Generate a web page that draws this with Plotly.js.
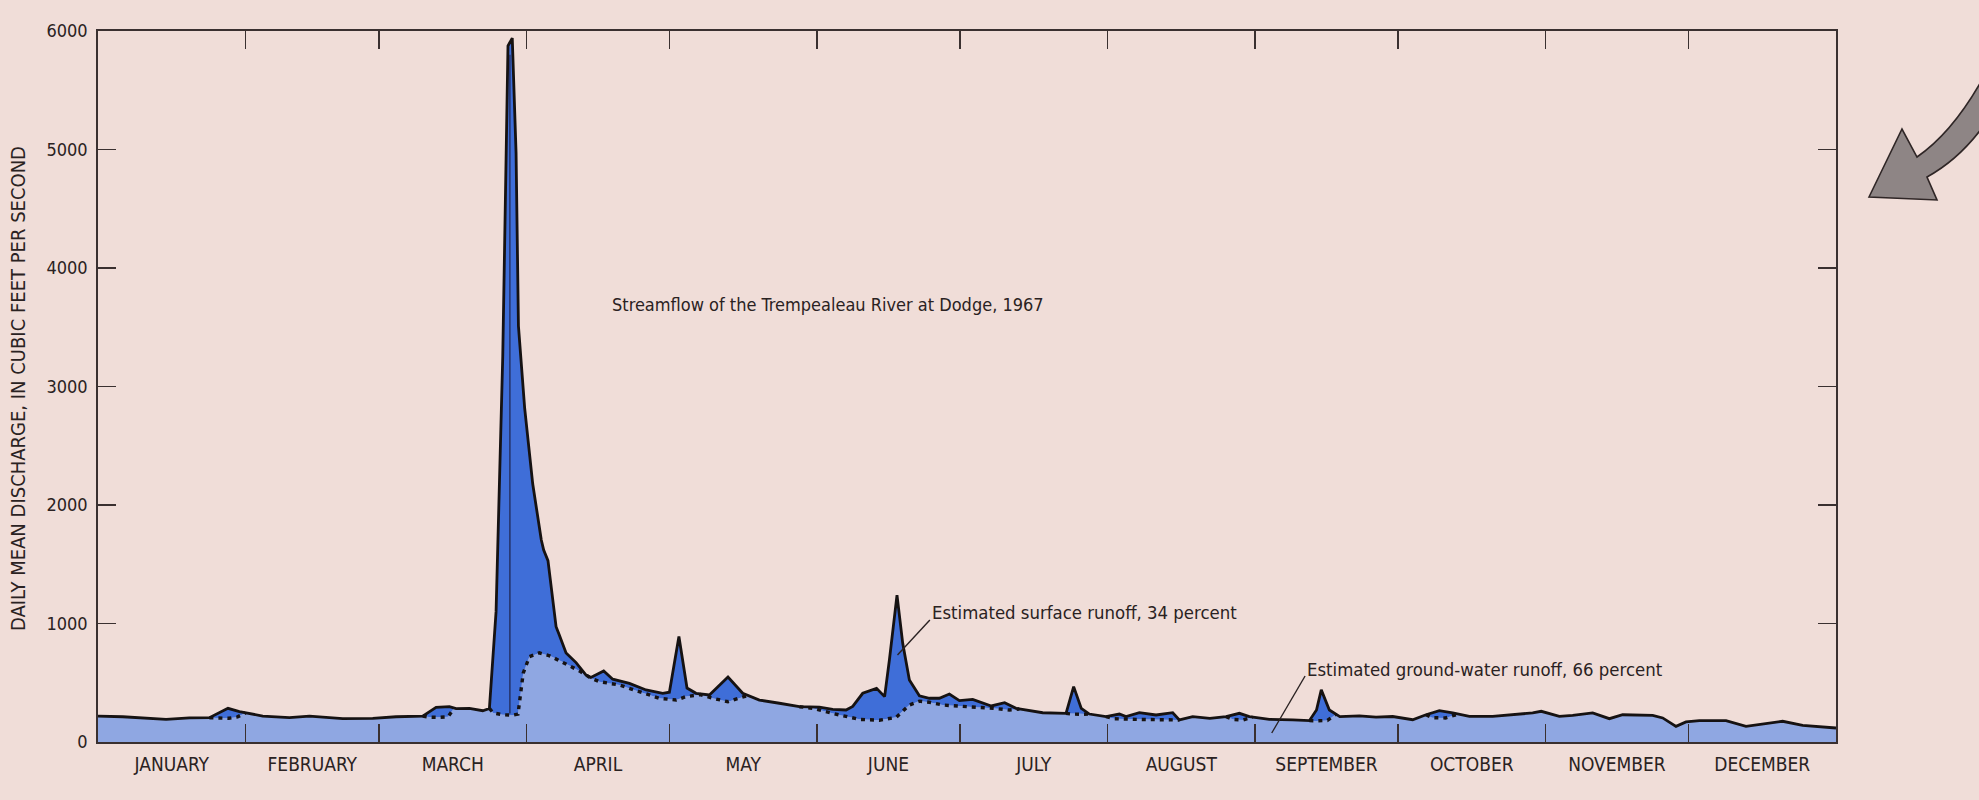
<!DOCTYPE html>
<html>
<head>
<meta charset="utf-8">
<script src="https://cdn.plot.ly/plotly-3.0.1.min.js"></script>
<style>
  html, body { margin: 0; padding: 0; background: #f0ddd8; }
  #chart { width: 1979px; height: 800px; }
</style>
</head>
<body>
<div id="chart"></div>
<script>
// ---------- DATA ----------
const months = ["JANUARY","FEBRUARY","MARCH","APRIL","MAY","JUNE","JULY","AUGUST","SEPTEMBER","OCTOBER","NOVEMBER","DECEMBER"];
const monthLengths = [31,28,31,30,31,30,31,31,30,31,30,31];
const yTicks = [0,1000,2000,3000,4000,5000,6000];

// Total daily mean discharge (solid line): day of year (0 = Jan 1) and cfs
const totDays = [0,5.2,14.3,19.2,23.4,25.2,27.3,29.7,34.6,40.2,44.4,51.4,57.7,62.6,68.2,71,73.8,75.2,78,80.8,
  82.2,83.6,85,86.1,87,87.8,88.3,89.6,91.3,93.1,93.6,94.5,96.2,96.9,98.3,100.4,102.5,103.5,106.2,108.1,
  111.6,115.1,118.6,120,122,123.7,125.6,128.4,130.2,132.3,135.4,138.9,143.1,147.3,151.5,154.3,157.1,158.5,160.6,163.5,
  165.2,166.2,167.8,169,170.4,172.5,174.6,176.7,178.8,180.9,183.7,185.8,187.6,190.4,192.8,198.4,203.3,204.9,206.5,208.2,
  211.7,214.5,215.9,218.7,222.2,225.7,227.1,229.9,233.5,236.9,239.7,241.8,246,250.9,254.4,255.9,256.9,258.6,260.8,264.9,
  268.4,271.9,276.1,278.9,281.7,284.5,288,292.9,297.1,301.3,303.1,306.9,309.7,313.9,317.4,320.2,326.5,328.6,331.4,333.5,
  336.3,341.9,346.1,348.9,353.8,358,365];
const totFlow = [219,213,191,203,205,242,284,256,219,205,219,197,200,213,219,293,298,281,284,264,
  283,1100,3250,5874,5940,4970,3510,2820,2177,1704,1620,1530,973,900,752,670,565,545,600,530,
  495,439,411,420,890,455,411,397,467,548,411,354,327,298,295,276,270,300,411,453,
  383,692,1240,833,523,390,369,369,405,349,360,332,304,332,284,247,242,467,284,236,
  214,236,214,247,228,247,186,214,200,214,242,214,191,186,180,270,440,270,214,220,
  210,215,188,230,264,245,217,217,230,245,259,217,225,245,197,230,225,203,132,169,
  180,180,132,146,175,141,118];

// Estimated ground-water runoff where it departs from the total (dotted line)
const gwSegDays = [
  [23.4,25.5,27.5,29.3,31],
  [68.2,69.5,71.5,73.5,74.8],
  [82.2,83,85,87,88.2,88.8,89.3,90.6,92.7,95,97.6,101.1,103.5,105.3,109.5,113.7,117.9,121.4,123.5,126.5,129.1,132.3,134.4,136.5],
  [147.3,150.1,155.7,159.9,164.1,167.6,170.4,172.5,174.6,177.4,184.4,188,191.4,193.5],
  [203.3,204.5,206.5,208.2],
  [211.7,213.5,218,222,226.4,227.1],
  [236.9,238.5,240.5,242.5],
  [254.4,255.8,258.2,260],
  [278.9,280.2,283,285.5]
];
const gwSegFlow = [
  [205,200,200,212,246],
  [219,210,208,213,286],
  [283,245,230,226,235,420,580,720,752,725,675,600,540,509,481,425,369,354,383,400,369,340,369,393],
  [298,284,228,191,184,208,312,345,335,312,293,285,270,279],
  [242,236,234,236],
  [214,196,191,191,190,186],
  [214,190,186,210],
  [180,178,182,234],
  [230,205,203,234]
];

const titleText = "Streamflow of the Trempealeau River at Dodge, 1967";
const surfaceText = "Estimated surface runoff, 34 percent";
const groundText = "Estimated ground-water runoff, 66 percent";
const yTitleText = "DAILY MEAN DISCHARGE, IN CUBIC FEET PER SECOND";

// ---------- DERIVED ----------
const monthStarts = [], monthMids = [];
let acc = 0;
monthLengths.forEach(n => { monthStarts.push(acc); monthMids.push(acc + n / 2); acc += n; });
const yearDays = acc;

// ground-water series for fill: total outside the segments, segment values inside
const gwPts = [];
totDays.forEach((d, i) => {
  const inside = gwSegDays.some(s => d >= s[0] && d <= s[s.length - 1]);
  if (!inside) gwPts.push([d, totFlow[i]]);
});
gwSegDays.forEach((s, k) => s.forEach((d, j) => gwPts.push([d, gwSegFlow[k][j]])));
gwPts.sort((a, b) => a[0] - b[0]);

// dotted line: segments separated by gaps
const dotX = [], dotY = [];
gwSegDays.forEach((s, k) => {
  s.forEach((d, j) => { dotX.push(d); dotY.push(gwSegFlow[k][j]); });
  dotX.push(null); dotY.push(null);
});

// ---------- STYLE ----------
const BG = "#f0ddd8";
const INK = "#2a2222";
const AXC = "#3a3030";
const LIGHT = "#8fa7e2";
const DARK = "#3f6ed8";
const FONT = "'DejaVu Sans Condensed', 'Liberation Sans Narrow', sans-serif";
const W = 1979, H = 800, M = { l: 98, r: 143, t: 31, b: 58 };
const pw = W - M.l - M.r, ph = H - M.t - M.b;
const px = X => (X - M.l) / pw;
const py = Y => (H - M.b - Y) / ph;

// peak position (used for the artist's inner line in the spring peak)
const peakIdx = totFlow.indexOf(Math.max(...totFlow));

const traces = [
  { x: gwPts.map(p => p[0]), y: gwPts.map(p => p[1]), type: "scatter", mode: "lines",
    line: { width: 0, color: LIGHT }, fill: "tozeroy", fillcolor: LIGHT, hoverinfo: "skip" },
  { x: totDays, y: totFlow, type: "scatter", mode: "lines",
    line: { width: 2.8, color: "#161212" }, fill: "tonexty", fillcolor: DARK, hoverinfo: "skip" },
  { x: dotX, y: dotY, type: "scatter", mode: "lines", connectgaps: false,
    line: { width: 3.4, color: "#161212", dash: "4px,5px" }, hoverinfo: "skip" },
  { x: monthMids, y: monthMids.map(() => null), xaxis: "x2", type: "scatter", mode: "lines", hoverinfo: "skip" }
];

const arrowPath = (() => {
  const P = (X, Y) => px(X).toFixed(5) + "," + py(Y).toFixed(5);
  return "M" + P(1869, 197) + " L" + P(1902, 129) + " L" + P(1917, 157) +
         " Q" + P(1952, 133) + " " + P(1982, 80) + " L" + P(1982, 128) +
         " Q" + P(1958, 160) + " " + P(1927, 177) + " L" + P(1937, 200) + " Z";
})();

const layout = {
  width: W, height: H,
  margin: M,
  paper_bgcolor: BG, plot_bgcolor: BG,
  showlegend: false,
  font: { family: FONT, color: INK, size: 19 },
  xaxis: {
    range: [0, yearDays], tickmode: "array", tickvals: monthStarts.slice(1),
    ticks: "inside", ticklen: 18, tickwidth: 1.5, tickcolor: AXC,
    showticklabels: false, showline: true, linewidth: 1.8, linecolor: AXC,
    mirror: "ticks", showgrid: false, zeroline: false, fixedrange: true
  },
  xaxis2: {
    overlaying: "x", anchor: "y", side: "bottom", range: [0, yearDays],
    tickmode: "array", tickvals: monthMids, ticktext: months,
    ticks: "", showline: false, showgrid: false, zeroline: false,
    tickfont: { family: FONT, size: 19, color: INK }, ticklabelstandoff: 9, fixedrange: true
  },
  yaxis: {
    range: [0, 6000], tickmode: "array", tickvals: yTicks,
    ticks: "inside", ticklen: 18, tickwidth: 1.5, tickcolor: AXC,
    showline: true, linewidth: 1.8, linecolor: AXC, mirror: "ticks",
    showgrid: false, zeroline: false,
    tickfont: { family: FONT, size: 18, color: INK }, ticklabelstandoff: 5, fixedrange: true
  },
  annotations: [
    { xref: "paper", yref: "paper", x: px(18), y: py(389), text: yTitleText, textangle: -90,
      showarrow: false, xanchor: "center", yanchor: "middle",
      font: { family: FONT, size: 20, color: INK } },
    { xref: "x", yref: "y", x: 107.5, y: 3692, text: titleText, showarrow: false,
      xanchor: "left", yanchor: "middle", font: { family: FONT, size: 18, color: INK } },
    { xref: "x", yref: "y", x: 174.8, y: 1097, text: surfaceText, showarrow: false,
      xanchor: "left", yanchor: "middle", font: { family: FONT, size: 18.4, color: INK } },
    { xref: "x", yref: "y", x: 253.4, y: 616, text: groundText, showarrow: false,
      xanchor: "left", yanchor: "middle", font: { family: FONT, size: 18.4, color: INK } }
  ],
  shapes: [
    { type: "line", xref: "x", yref: "y", x0: totDays[peakIdx] - 0.5, x1: totDays[peakIdx] - 0.5,
      y0: 240, y1: 5800, line: { color: "#26356e", width: 1.6 } },
    { type: "line", xref: "x", yref: "y", x0: 174.7, y0: 1030, x1: 167.9, y1: 734,
      line: { color: INK, width: 1.4 } },
    { type: "line", xref: "x", yref: "y", x0: 253.5, y0: 557, x1: 246.5, y1: 76,
      line: { color: INK, width: 1.4 } },
    { type: "path", xref: "paper", yref: "paper", path: arrowPath,
      fillcolor: "#8e8585", line: { color: "#2f2626", width: 1.6 } }
  ]
};

Plotly.newPlot("chart", traces, layout, { staticPlot: true, displayModeBar: false });
</script>
</body>
</html>
